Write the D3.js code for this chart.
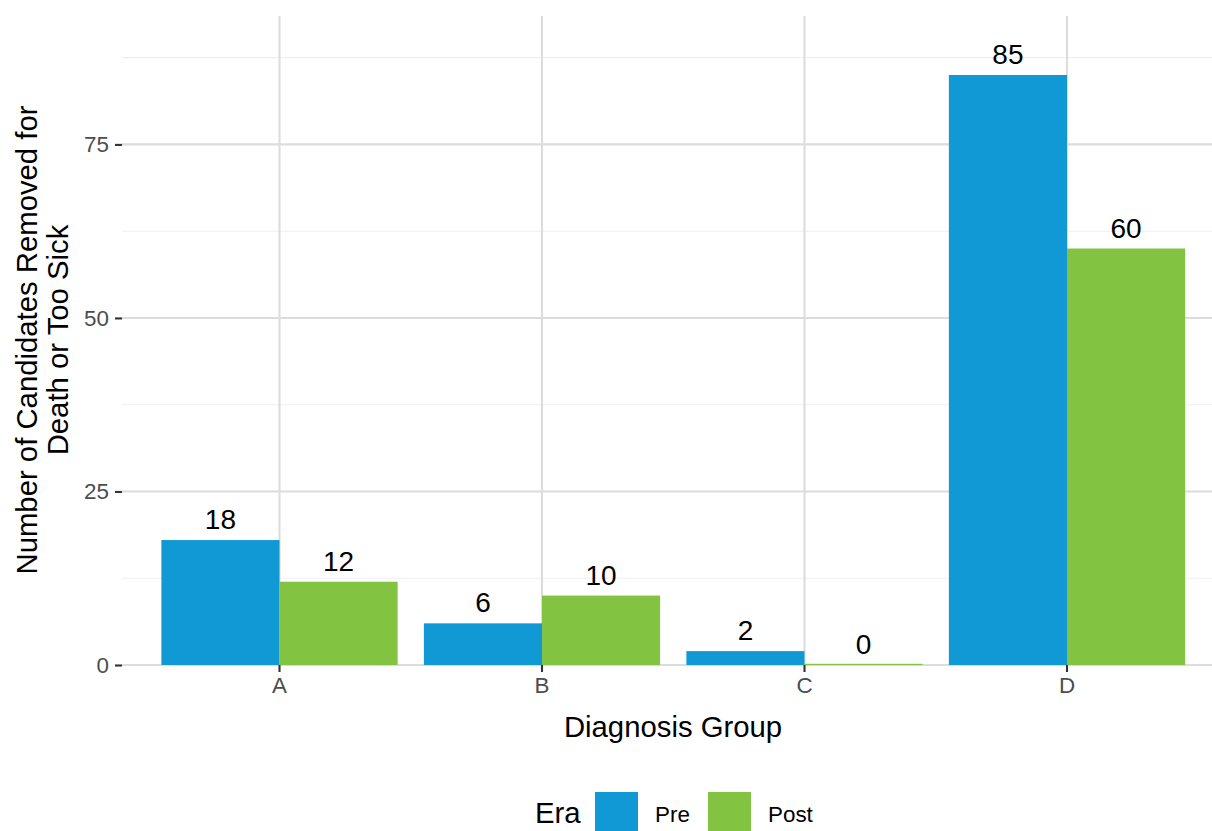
<!DOCTYPE html>
<html><head><meta charset="utf-8">
<script src="https://cdn.jsdelivr.net/npm/d3@7"></script>
<style>body{margin:0;background:#fff}svg{display:block;font-family:"Liberation Sans",Arial,sans-serif}</style>
</head><body><svg id="c" width="1212" height="831"></svg>
<script>
const categories = ["A","B","C","D"];
const eras = ["Pre","Post"];
const preValues = [18, 6, 2, 85];
const postValues = [12, 10, 0, 60];
const yTicks = [0, 25, 50, 75];
const yMinorTicks = [12.5, 37.5, 62.5, 87.5];
const colors = ["#1199D6", "#82C341"];

const svg = d3.select("#c");
const panel = {left:122, right:1224.5, top:16, bottom:665};
const x = d3.scaleBand().domain(categories).range([panel.left, panel.right]).paddingInner(0).paddingOuter(0.1);
const xSub = d3.scaleBand().domain(eras).range([0, x.bandwidth()*0.9]);
const yMax = d3.max(preValues.concat(postValues)) * 1.1;
const y = d3.scaleLinear().domain([0, yMax]).range([panel.bottom, panel.top]);

const g = svg.append("g");
g.selectAll(".minor").data(yMinorTicks).join("line")
  .attr("x1", panel.left).attr("x2", 1212).attr("y1", d=>y(d)).attr("y2", d=>y(d))
  .attr("stroke", "#efefef").attr("stroke-width", 1.1);
g.selectAll(".majory").data(yTicks).join("line")
  .attr("x1", panel.left).attr("x2", 1212).attr("y1", d=>y(d)).attr("y2", d=>y(d))
  .attr("stroke", "#dcdcdc").attr("stroke-width", 2.1);
g.selectAll(".majorx").data(categories).join("line")
  .attr("x1", d=>x(d)+x.bandwidth()/2).attr("x2", d=>x(d)+x.bandwidth()/2)
  .attr("y1", panel.top).attr("y2", panel.bottom)
  .attr("stroke", "#dcdcdc").attr("stroke-width", 2.1);

const rows = [];
categories.forEach((c,i)=>{
  rows.push({cat:c, era:"Pre", v:preValues[i], col:colors[0]});
  rows.push({cat:c, era:"Post", v:postValues[i], col:colors[1]});
});
const off = x.bandwidth()*0.05;
g.selectAll(".bar").data(rows).join("rect")
  .attr("x", d=>x(d.cat)+off+xSub(d.era))
  .attr("width", xSub.bandwidth())
  .attr("y", d=>Math.min(y(d.v), y(0)-1.2))
  .attr("height", d=>Math.max(y(0)-y(d.v), 1.2))
  .attr("fill", d=>d.col);

g.selectAll(".lbl").data(rows).join("text")
  .attr("x", d=>x(d.cat)+off+xSub(d.era)+xSub.bandwidth()/2)
  .attr("y", d=>y(d.v)-11)
  .attr("text-anchor","middle").attr("font-size", 28).attr("fill","#000")
  .text(d=>d.v);

const yAxis = d3.axisLeft(y).tickValues(yTicks).tickSize(7).tickPadding(6);
const ya = svg.append("g").attr("transform",`translate(${panel.left},0)`).call(yAxis);
ya.select(".domain").remove();
ya.selectAll(".tick line").attr("stroke","#333").attr("stroke-width",2.1);
ya.selectAll(".tick text").attr("font-size",22.4).attr("fill","#4d4d4d").attr("font-family","Liberation Sans, Arial, sans-serif");

const xAxis = d3.axisBottom(x).tickSize(7).tickPadding(5);
const xa = svg.append("g").attr("transform",`translate(0,${panel.bottom})`).call(xAxis);
xa.select(".domain").remove();
xa.selectAll(".tick line").attr("stroke","#333").attr("stroke-width",2.1);
xa.selectAll(".tick text").attr("font-size",22.4).attr("fill","#4d4d4d").attr("font-family","Liberation Sans, Arial, sans-serif");

svg.append("text").attr("x", 673).attr("y", 737).attr("text-anchor","middle")
  .attr("font-size",29.3).text("Diagnosis Group");
const yt = svg.append("text").attr("transform","translate(0,340) rotate(-90)").attr("text-anchor","middle").attr("font-size",29.3);
yt.append("tspan").attr("x",0).attr("y",37).text("Number of Candidates Removed for");
yt.append("tspan").attr("x",0).attr("y",68).text("Death or Too Sick");

const leg = svg.append("g");
leg.append("text").attr("x",535).attr("y",823).attr("font-size",29.3).text("Era");
const keyX = [595, 708];
eras.forEach((e,i)=>{
  leg.append("rect").attr("x",keyX[i]).attr("y",792).attr("width",43).attr("height",43).attr("fill",colors[i]);
  leg.append("text").attr("x",keyX[i]+60).attr("y",822).attr("font-size",22.4).attr("fill","#000").text(e);
});
</script></body></html>
